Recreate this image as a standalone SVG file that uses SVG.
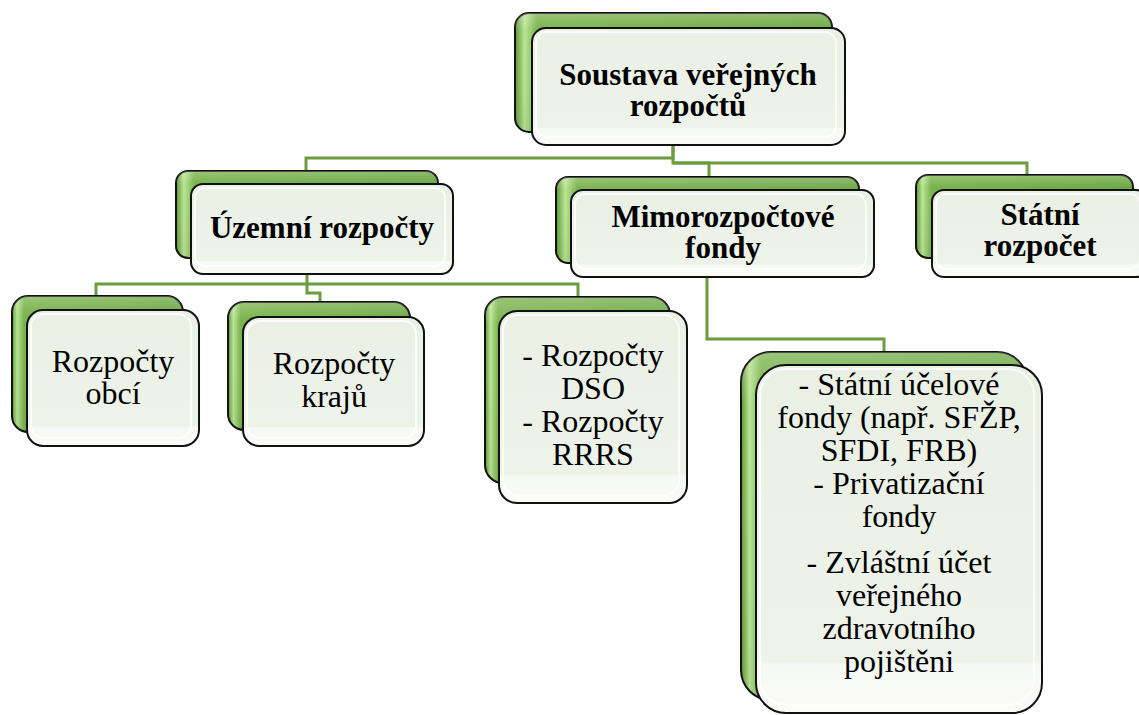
<svg xmlns="http://www.w3.org/2000/svg" width="1139" height="715" viewBox="0 0 1139 715">
<defs>
<linearGradient id="gBack" x1="0" y1="0" x2="1" y2="0">
<stop offset="0" stop-color="#5c9434"/>
<stop offset="0.03" stop-color="#b9e594"/>
<stop offset="0.07" stop-color="#79b34c"/>
<stop offset="1" stop-color="#6ca843"/>
</linearGradient>
<linearGradient id="gBackV" x1="0" y1="0" x2="0" y2="1">
<stop offset="0" stop-color="#ffffff" stop-opacity="0.25"/>
<stop offset="0.15" stop-color="#ffffff" stop-opacity="0"/>
<stop offset="1" stop-color="#000000" stop-opacity="0.05"/>
</linearGradient>
<linearGradient id="gFront" x1="0" y1="0" x2="0" y2="1">
<stop offset="0" stop-color="#eaf0e4"/>
<stop offset="0.85" stop-color="#eef3ea"/>
<stop offset="0.86" stop-color="#f6f8f4"/>
<stop offset="1" stop-color="#fbfcfa"/>
</linearGradient>
</defs>
<style>
.back{fill:url(#gBack);stroke:#111;stroke-width:2}
.backh{fill:url(#gBackV);stroke:none}
.front{fill:url(#gFront);stroke:#111;stroke-width:2}
.inner{fill:none;stroke:#ffffff;stroke-width:2;stroke-opacity:0.8}
.conn{fill:none;stroke:#6b9c3e;stroke-width:3}
.b{font-weight:bold;font-size:31px;fill:#000;text-anchor:middle}
.r{font-size:32px;fill:#000;text-anchor:middle}
</style>
<rect width="1139" height="715" fill="#ffffff"/>
<g id="connectors">
<polyline class="conn" points="673,146 673,158 306,158 306,172"/>
<polyline class="conn" points="673,146 673,163 709,163 709,178"/>
<polyline class="conn" points="673,163 1027,163 1027,176"/>
<polyline class="conn" points="307,274 307,284 96,284 96,297"/>
<polyline class="conn" points="307,284 578,284 578,298"/>
<polyline class="conn" points="307,284 307,293 320,293 320,303"/>
<polyline class="conn" points="707,277 707,339 884,339 884,353"/>
</g>
<g font-family="Liberation Serif, Tinos, DejaVu Serif, Times New Roman, serif">
<g id="root">
<rect class="back" x="515" y="13" width="317" height="119" rx="14"/>
<rect class="backh" x="515" y="13" width="317" height="119" rx="14"/>
<rect class="front" x="532" y="28" width="313" height="117" rx="14"/>
<rect class="inner" x="536" y="32" width="300" height="105" rx="11"/>
<text class="b" x="688" y="85">Soustava veřejných</text>
<text class="b" x="688" y="116">rozpočtů</text>
</g>
<g id="uzemni">
<rect class="back" x="176" y="171" width="262" height="87" rx="12"/>
<rect class="backh" x="176" y="171" width="262" height="87" rx="12"/>
<rect class="front" x="191" y="184" width="262" height="90" rx="12"/>
<rect class="inner" x="195" y="188" width="250" height="78" rx="10"/>
<text class="b" x="322" y="238">Územní rozpočty</text>
</g>
<g id="mimo">
<rect class="back" x="556" y="177" width="303" height="86" rx="12"/>
<rect class="backh" x="556" y="177" width="303" height="86" rx="12"/>
<rect class="front" x="571" y="190" width="303" height="87" rx="12"/>
<rect class="inner" x="575" y="194" width="291" height="75" rx="10"/>
<text class="b" x="723" y="227">Mimorozpočtové</text>
<text class="b" x="723" y="258">fondy</text>
</g>
<g id="statni">
<rect class="back" x="916" y="175" width="217" height="83" rx="12"/>
<rect class="backh" x="916" y="175" width="217" height="83" rx="12"/>
<rect class="front" x="932" y="190" width="216" height="87" rx="12"/>
<rect class="inner" x="936" y="194" width="204" height="75" rx="10"/>
<text class="b" x="1040" y="225">Státní</text>
<text class="b" x="1040" y="256">rozpočet</text>
</g>
<g id="obci">
<rect class="back" x="12" y="296" width="171" height="136" rx="16"/>
<rect class="backh" x="12" y="296" width="171" height="136" rx="16"/>
<rect class="front" x="27" y="310" width="172" height="136" rx="16"/>
<rect class="inner" x="31" y="314" width="160" height="124" rx="13"/>
<text class="r" x="113" y="372">Rozpočty</text>
<text class="r" x="113" y="404">obcí</text>
</g>
<g id="kraju">
<rect class="back" x="228" y="302" width="182" height="128" rx="16"/>
<rect class="backh" x="228" y="302" width="182" height="128" rx="16"/>
<rect class="front" x="243" y="317" width="181" height="129" rx="16"/>
<rect class="inner" x="247" y="321" width="169" height="117" rx="13"/>
<text class="r" x="334" y="374">Rozpočty</text>
<text class="r" x="334" y="407">krajů</text>
</g>
<g id="dso">
<rect class="back" x="485" y="297" width="185" height="186" rx="18"/>
<rect class="backh" x="485" y="297" width="185" height="186" rx="18"/>
<rect class="front" x="499" y="311" width="188" height="192" rx="18"/>
<rect class="inner" x="503" y="315" width="176" height="180" rx="15"/>
<text class="r" x="593" y="366">- Rozpočty</text>
<text class="r" x="593" y="399">DSO</text>
<text class="r" x="593" y="432">- Rozpočty</text>
<text class="r" x="593" y="465">RRRS</text>
</g>
<g id="fondy">
<rect class="back" x="741" y="352" width="286" height="348" rx="30"/>
<rect class="backh" x="741" y="352" width="286" height="348" rx="30"/>
<rect class="front" x="756" y="365" width="286" height="348" rx="30"/>
<rect class="inner" x="760" y="369" width="274" height="336" rx="26"/>
<text class="r" x="899" y="395">- Státní účelové</text>
<text class="r" x="899" y="428">fondy (např. SFŽP,</text>
<text class="r" x="899" y="461">SFDI, FRB)</text>
<text class="r" x="899" y="494">- Privatizační</text>
<text class="r" x="899" y="527">fondy</text>
<text class="r" x="899" y="573">- Zvláštní účet</text>
<text class="r" x="899" y="606">veřejného</text>
<text class="r" x="899" y="639">zdravotního</text>
<text class="r" x="899" y="672">pojištěni</text>
</g>
</g>
</svg>
